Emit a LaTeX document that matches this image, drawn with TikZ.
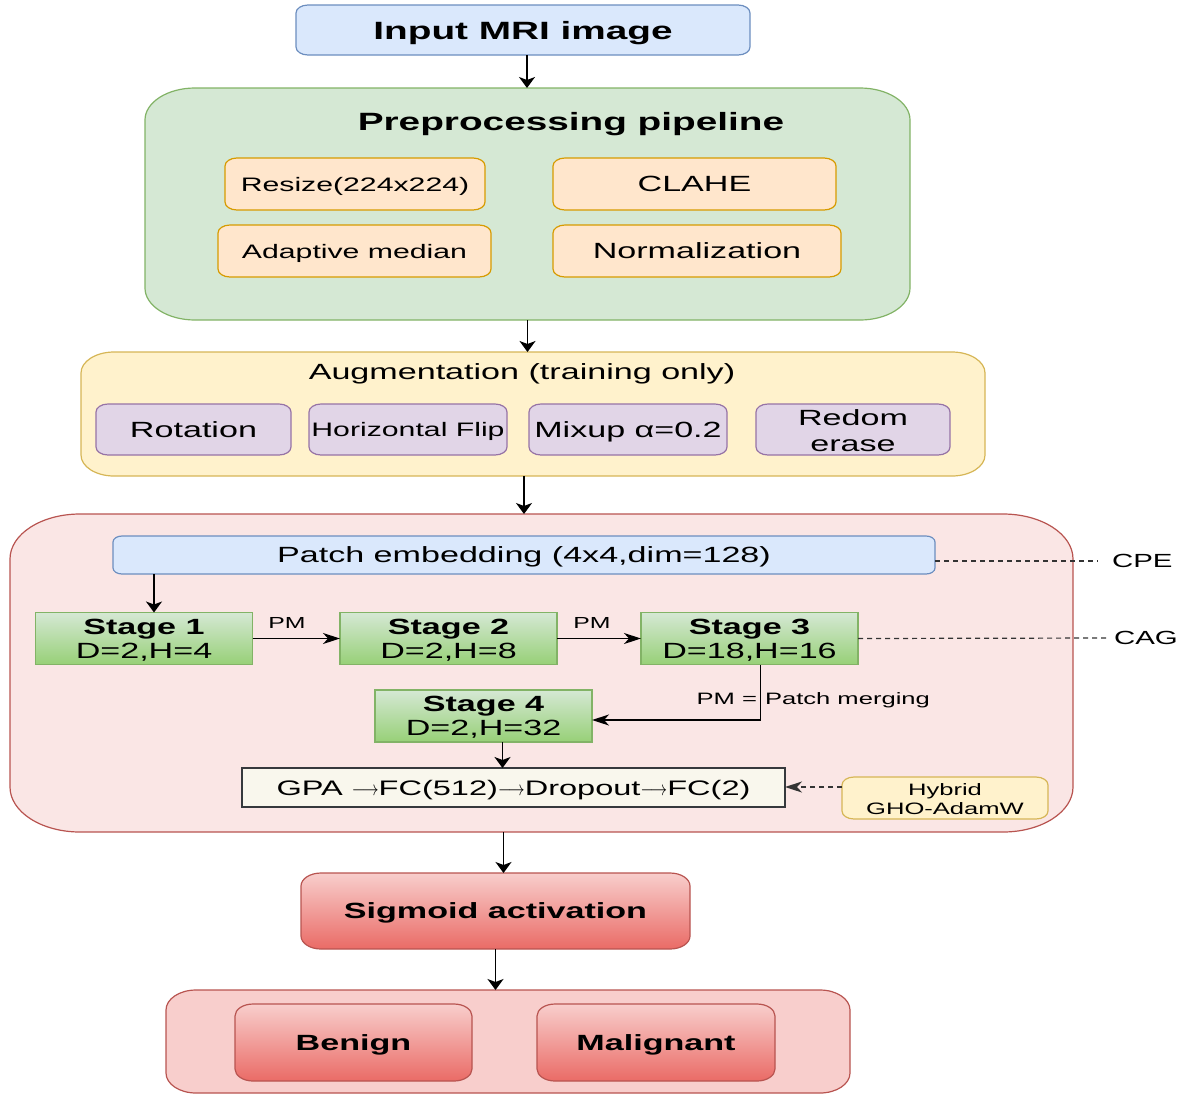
\documentclass[tikz,border=0pt]{standalone}
\usepackage{fontspec}
\setmainfont{Liberation Sans}[FakeStretch=1.55]
\usetikzlibrary{arrows.meta,calc}

\definecolor{blueFill}{HTML}{DAE8FC}
\definecolor{blueEdge}{HTML}{6C8EBF}
\definecolor{greenFill}{HTML}{D5E8D4}
\definecolor{greenEdge}{HTML}{82B366}
\definecolor{orangeFill}{HTML}{FFE6CC}
\definecolor{orangeEdge}{HTML}{D79B00}
\definecolor{yellowFill}{HTML}{FFF2CC}
\definecolor{yellowEdge}{HTML}{D6B656}
\definecolor{purpleFill}{HTML}{E1D5E7}
\definecolor{purpleEdge}{HTML}{9673A6}
\definecolor{modelFill}{HTML}{FAE6E5}
\definecolor{redEdge}{HTML}{B85450}
\definecolor{redTop}{HTML}{F8CECC}
\definecolor{redBot}{HTML}{EA6B66}
\definecolor{outFill}{HTML}{F8CECC}
\definecolor{stTop}{HTML}{D5E8D4}
\definecolor{stBot}{HTML}{97D077}
\definecolor{gpaFill}{HTML}{F9F7ED}
\definecolor{gpaEdge}{HTML}{36393D}
\definecolor{dashGray}{HTML}{333333}

\newcommand\fsz[2]{\fontsize{#1pt}{#2pt}\selectfont}
% thin long arrow used inside the classifier-head label
\newcommand\garr{\scalebox{0.8}[1]{$\longrightarrow$}}
% two centred lines set with the current font and line spacing
\newcommand\twolines[2]{\begin{tabular}[b]{@{}c@{}}#1\\#2\end{tabular}}

% rounded panel with elliptical corners:
% name, path style, x1, y1, x2, y2, corner rx, corner ry, text
\newcommand\panel[9]{%
  \path[#2] (#3+#7,#4) -- (#5-#7,#4)
    arc[start angle=90,end angle=0,x radius=#7pt,y radius=#8pt]
    -- (#5,#6-#8)
    arc[start angle=0,end angle=-90,x radius=#7pt,y radius=#8pt]
    -- (#3+#7,#6)
    arc[start angle=-90,end angle=-180,x radius=#7pt,y radius=#8pt]
    -- (#3,#4+#8)
    arc[start angle=180,end angle=90,x radius=#7pt,y radius=#8pt]
    -- cycle;
  \node[txt, minimum width={#5pt-#3pt}, minimum height={#6pt-#4pt}]
    (#1) at ({(#3+#5)/2},{(#4+#6)/2}) {#9};%
}

\begin{document}
\begin{tikzpicture}[x=1pt,y=-1pt,
  txt/.style={inner sep=0pt, outer sep=0pt, align=center, text=black, text depth=0pt},
  box/.style={line width=1.2pt},
  stagebox/.style={draw=greenEdge, top color=stTop, bottom color=stBot,
    line width=1.2pt, minimum width=217pt, minimum height=52pt, text depth=0pt,
    inner sep=0pt, outer sep=0pt, align=center, font=\fsz{22}{24}},
  varr/.style={line width=1.5pt, -{Stealth[length=11pt,width=16pt,inset=3pt]}},
  harr/.style={line width=1.5pt, -{Stealth[length=17pt,width=11pt,inset=5pt]}},
  dashline/.style={line width=1.2pt, draw=dashGray, dash pattern=on 5pt off 4pt},
]
\useasboundingbox (0,0) rectangle (1182,1095);

% input
\panel{inp}{box,draw=blueEdge,fill=blueFill}{296}{5}{750}{55}{12}{8}{\fsz{25}{30}\bfseries Input MRI image}

% preprocessing pipeline
\panel{pre}{box,draw=greenEdge,fill=greenFill}{145}{88}{910}{320}{50}{32}{}
\node[txt,font=\fsz{25}{30}\bfseries] (pretitle) at (571,121) {Preprocessing pipeline};
\panel{resize}{box,draw=orangeEdge,fill=orangeFill}{225}{158}{485}{210}{12}{8}{\fsz{19.5}{23}Resize(224x224)}
\panel{clahe}{box,draw=orangeEdge,fill=orangeFill}{553}{158}{836}{210}{12}{8}{\fsz{22}{26}CLAHE}
\panel{adapt}{box,draw=orangeEdge,fill=orangeFill}{218}{225}{491}{277}{12}{8}{\fsz{19.5}{23}Adaptive median}
\panel{norm}{box,draw=orangeEdge,fill=orangeFill}{553}{225}{841}{277}{12}{8}{\fsz{22}{26}Normalization}

% augmentation
\panel{aug}{box,draw=yellowEdge,fill=yellowFill}{81}{352}{985}{476}{33}{21}{}
\node[txt,font=\fsz{22}{26}] (augtitle) at (522,372) {Augmentation (training only)};
\panel{rot}{box,draw=purpleEdge,fill=purpleFill}{96}{404}{291}{455}{12}{8}{\fsz{22}{26}Rotation}
\panel{hflip}{box,draw=purpleEdge,fill=purpleFill}{309}{404}{507}{455}{12}{8}{\fsz{19.5}{23}Horizontal Flip}
\panel{mixup}{box,draw=purpleEdge,fill=purpleFill}{529}{404}{727}{455}{12}{8}{\fsz{22}{26}Mixup α=0.2}
\panel{erase}{box,draw=purpleEdge,fill=purpleFill}{756}{404}{950}{455}{12}{8}{\fsz{22}{26}\twolines{Redom}{erase}}

% model
\panel{model}{box,draw=redEdge,fill=modelFill}{10}{514}{1073}{832}{70}{45}{}
\panel{patch}{box,draw=blueEdge,fill=blueFill}{113}{536}{935}{574}{9}{6}{\fsz{22}{26}Patch embedding (4x4,dim=128)}
\node[txt,font=\fsz{19}{23},anchor=west] (cpe) at (1112,561) {CPE};

\node[stagebox] (s1) at (144,638.5) {\textbf{Stage 1}\\D=2,H=4};
\node[stagebox] (s2) at (448.5,638.5) {\textbf{Stage 2}\\D=2,H=8};
\node[stagebox] (s3) at (749.5,638.5) {\textbf{Stage 3}\\D=18,H=16};
\node[stagebox] (s4) at (483.5,716) {\textbf{Stage 4}\\D=2,H=32};
\node[txt,font=\fsz{19}{23},anchor=west] (cag) at (1114,638) {CAG};

\node[txt,font=\fsz{16}{19}] (pm1) at (287,623) {PM};
\node[txt,font=\fsz{16}{19}] (pm2) at (592,623) {PM};
\node[txt,font=\fsz{16.5}{20},anchor=east] (pmeq) at (757,699) {PM =};
\node[txt,font=\fsz{16.5}{20},anchor=west] (pmdef) at (765,699) {Patch merging};

\node[draw=gpaEdge, fill=gpaFill, line width=1.2pt, minimum width=543pt,
  minimum height=39pt, inner sep=0pt, outer sep=0pt, text depth=0pt, font=\fsz{21}{25}]
  (gpa) at (513.5,787.5) {GPA \garr FC(512)\garr Dropout\garr FC(2)};
\panel{hyb}{box,draw=yellowEdge,fill=yellowFill}{842}{777}{1048}{819}{12}{8}{\fsz{16.5}{19}\twolines{Hybrid}{GHO-AdamW}}

% output head
\panel{sig}{box,draw=redEdge,top color=redTop,bottom color=redBot}{301}{873}{690}{949}{20}{13}{\fsz{22}{26}\bfseries Sigmoid activation}
\panel{out}{box,draw=redEdge,fill=outFill}{166}{990}{850}{1093}{30}{20}{}
\panel{benign}{box,draw=redEdge,top color=redTop,bottom color=redBot}{235}{1004}{472}{1081}{18}{12}{\fsz{22}{26}\bfseries Benign}
\panel{malig}{box,draw=redEdge,top color=redTop,bottom color=redBot}{537}{1004}{775}{1081}{18}{12}{\fsz{22}{26}\bfseries Malignant}

% connectors
\coordinate (inpout) at ([xshift=4pt]inp.south);
\coordinate (augout) at ([xshift=-9pt]aug.south);
\coordinate (s1in) at ([xshift=10pt]s1.north);
\coordinate (s3out) at ([xshift=11pt]s3.south);
\coordinate (s4in) at ([yshift=-4pt]s4.east);
\coordinate (s4out) at ([xshift=19pt]s4.south);
\coordinate (hybout) at ([yshift=11pt]hyb.west);
\coordinate (patchout) at ([yshift=-6pt]patch.east);
\coordinate (sigin) at ([xshift=8pt]sig.north);

\draw[varr] (inpout) -- (inpout |- pre.north);
\draw[varr] (pre.south) -- (pre.south |- aug.north);
\draw[varr] (augout) -- (augout |- model.north);
\draw[varr] (s1in |- patch.south) -- (s1in);
\draw[harr] (s1) -- (s2);
\draw[harr] (s2) -- (s3);
\draw[harr] (s3out) |- (s4in);
\draw[varr] (s4out) -- (s4out |- gpa.north);
\draw[dashline, harr] (hybout) -- (hybout -| gpa.east);
\draw[dashline] (patchout) -- ([xshift=-14pt]cpe.west);
\draw[dashline] (s3.east) -- ([xshift=-6pt]cag.west);
\draw[varr] (sigin |- model.south) -- (sigin);
\draw[varr] (sig.south) -- (sig.south |- out.north);
\end{tikzpicture}
\end{document}
